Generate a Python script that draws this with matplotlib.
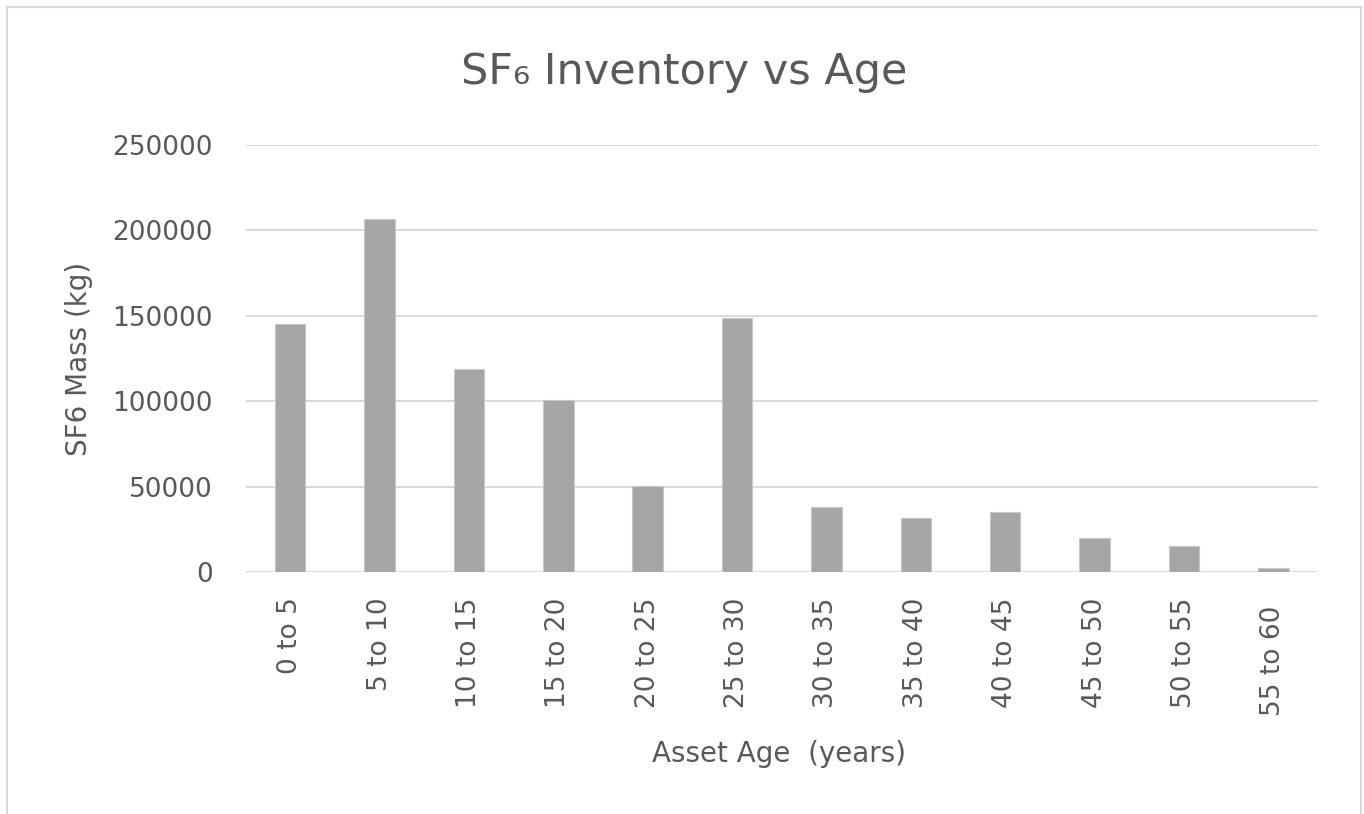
import matplotlib
matplotlib.use("Agg")
import matplotlib.pyplot as plt
from matplotlib.lines import Line2D
from matplotlib.transforms import ScaledTranslation

categories = ["0 to 5", "5 to 10", "10 to 15", "15 to 20", "20 to 25", "25 to 30",
              "30 to 35", "35 to 40", "40 to 45", "45 to 50", "50 to 55", "55 to 60"]
mass_kg = [145500, 206500, 119200, 101000, 50200, 148900,
           38400, 31800, 35200, 20300, 15400, 2300]
y_ticks = [0, 50000, 100000, 150000, 200000, 250000]

TEXT = "#595959"
GRID = "#D9D9D9"
BAR = "#A5A5A5"

plt.rcParams["font.family"] = ["DejaVu Sans"]

W, H = 1364, 814
fig = plt.figure(figsize=(W / 100, H / 100), dpi=100)
fig.patch.set_facecolor("white")

left, right, top, bottom = 245.5, 1318, 145, 572.3
ax = fig.add_axes([left / W, 1 - bottom / H, (right - left) / W, (bottom - top) / H])

x = list(range(len(categories)))
ax.bar(x, mass_kg, width=0.34, color=BAR, edgecolor="#C8C8C8", linewidth=0.8, zorder=3)

ax.set_xlim(-0.5, len(categories) - 0.5)
ax.set_ylim(0, 250000)
ax.set_yticks(y_ticks)
ax.set_yticklabels([str(v) for v in y_ticks])
ax.set_xticks(x)
ax.set_xticklabels(categories, rotation=90)

for s in ax.spines.values():
    s.set_visible(False)
ax.grid(axis="y", color=GRID, linewidth=1.4, zorder=0)
ax.tick_params(axis="y", length=0, pad=23.5, labelsize=19, labelcolor=TEXT)
ax.tick_params(axis="x", length=0, pad=18, labelsize=19, labelcolor=TEXT)

# the last category label sits slightly lower in the reference
last = ax.get_xticklabels()[-1]
last.set_transform(last.get_transform() + ScaledTranslation(0, -0.08, fig.dpi_scale_trans))

ax.set_ylabel("SF6 Mass (kg)", fontsize=20, color=TEXT)
ax.yaxis.set_label_coords((93 - left) / (right - left), 0.5)
ax.set_xlabel("Asset Age  (years)", fontsize=20, color=TEXT)
ax.xaxis.set_label_coords((779 - left) / (right - left), (bottom - 740) / (bottom - top))

fig.text(684 / W, 1 - 72 / H, "SF₆ Inventory vs Age", fontsize=31, color=TEXT,
         ha="center", va="center")

# chart border (top, left, right)
for xs, ys in [([7 / W, 1361 / W], [1 - 7 / H, 1 - 7 / H]),
               ([7 / W, 7 / W], [0, 1 - 7 / H]),
               ([1361 / W, 1361 / W], [0, 1 - 7 / H])]:
    fig.add_artist(Line2D(xs, ys, color=GRID, linewidth=1.5, transform=fig.transFigure))

fig.savefig("out.png", dpi=100, facecolor="white")
